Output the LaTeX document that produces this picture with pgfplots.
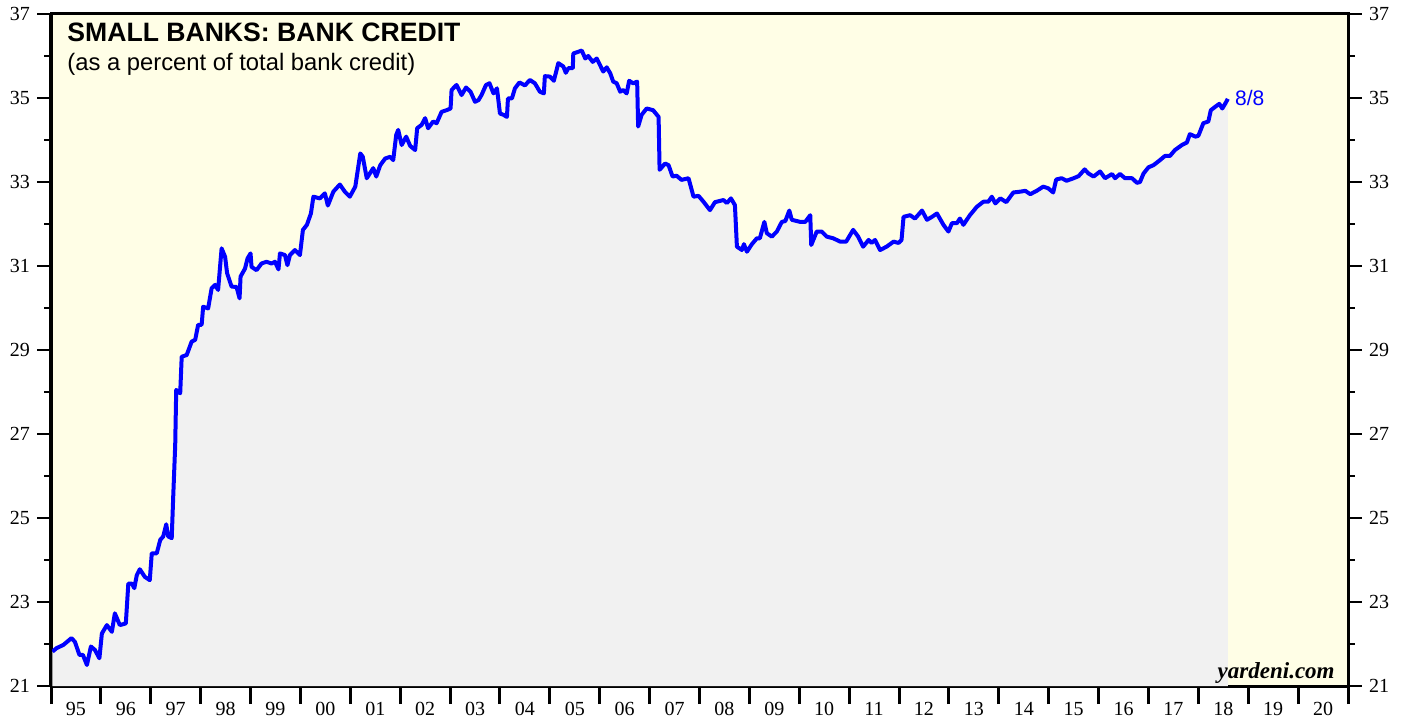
\documentclass[border=0pt]{standalone}
\usepackage{fontspec}
\setmainfont{Liberation Serif}
\newfontfamily\hv{Liberation Sans}
\usepackage{pgfplots}
\usepackage{pgfplotstable}
\pgfplotsset{compat=1.18}
\definecolor{bgyellow}{RGB}{255,254,230}
\definecolor{areagray}{RGB}{241,241,241}
\definecolor{lineblue}{RGB}{0,0,255}

\pgfplotstableread{
year val
1995.03 21.82
1995.11 21.90
1995.25 21.98
1995.41 22.14
1995.48 22.05
1995.57 21.74
1995.64 21.74
1995.72 21.50
1995.80 21.94
1995.88 21.86
1995.97 21.66
1996.02 22.25
1996.12 22.45
1996.22 22.29
1996.28 22.73
1996.38 22.45
1996.50 22.49
1996.55 23.44
1996.62 23.44
1996.67 23.33
1996.72 23.64
1996.78 23.78
1996.88 23.60
1996.98 23.52
1997.02 24.16
1997.12 24.16
1997.19 24.48
1997.25 24.56
1997.31 24.85
1997.35 24.56
1997.42 24.52
1997.45 25.51
1997.49 26.74
1997.51 28.05
1997.59 27.97
1997.62 28.84
1997.72 28.88
1997.82 29.20
1997.89 29.24
1997.95 29.60
1998.02 29.60
1998.05 30.03
1998.15 29.99
1998.22 30.47
1998.29 30.55
1998.35 30.43
1998.42 31.42
1998.49 31.22
1998.53 30.83
1998.62 30.51
1998.72 30.50
1998.78 30.23
1998.80 30.75
1998.89 30.94
1998.94 31.18
1999.00 31.30
1999.02 30.98
1999.12 30.90
1999.22 31.06
1999.32 31.10
1999.42 31.06
1999.49 31.10
1999.56 30.92
1999.59 31.30
1999.69 31.26
1999.74 31.02
1999.79 31.26
1999.89 31.38
1999.99 31.26
2000.05 31.86
2000.13 31.98
2000.21 32.25
2000.26 32.65
2000.39 32.61
2000.49 32.73
2000.55 32.44
2000.66 32.77
2000.79 32.94
2000.89 32.77
2000.99 32.65
2001.10 32.89
2001.20 33.68
2001.25 33.60
2001.33 33.09
2001.46 33.33
2001.52 33.13
2001.60 33.40
2001.70 33.56
2001.80 33.60
2001.86 33.52
2001.92 34.12
2001.96 34.24
2002.03 33.88
2002.12 34.08
2002.20 33.86
2002.30 33.76
2002.34 34.28
2002.43 34.36
2002.50 34.52
2002.56 34.28
2002.66 34.44
2002.73 34.40
2002.83 34.67
2002.93 34.71
2003.01 34.75
2003.03 35.19
2003.13 35.31
2003.23 35.07
2003.32 35.25
2003.41 35.15
2003.50 34.91
2003.57 34.95
2003.63 35.07
2003.72 35.31
2003.79 35.35
2003.87 35.11
2003.94 35.23
2004.00 34.63
2004.07 34.60
2004.14 34.55
2004.16 34.99
2004.24 34.99
2004.30 35.23
2004.39 35.37
2004.50 35.30
2004.60 35.43
2004.70 35.35
2004.80 35.15
2004.88 35.11
2004.90 35.52
2005.00 35.51
2005.08 35.41
2005.17 35.83
2005.27 35.75
2005.32 35.60
2005.37 35.71
2005.46 35.71
2005.47 36.06
2005.57 36.10
2005.64 36.13
2005.71 35.94
2005.77 36.00
2005.86 35.86
2005.94 35.94
2006.02 35.75
2006.07 35.63
2006.14 35.73
2006.21 35.59
2006.27 35.39
2006.34 35.35
2006.41 35.15
2006.47 35.19
2006.54 35.11
2006.59 35.41
2006.67 35.35
2006.75 35.39
2006.77 34.32
2006.84 34.60
2006.94 34.75
2007.07 34.71
2007.18 34.55
2007.20 33.29
2007.31 33.44
2007.38 33.40
2007.46 33.13
2007.54 33.15
2007.64 33.05
2007.78 33.09
2007.88 32.65
2007.98 32.67
2008.08 32.53
2008.21 32.33
2008.31 32.52
2008.48 32.57
2008.55 32.50
2008.63 32.61
2008.71 32.45
2008.75 31.46
2008.85 31.38
2008.89 31.52
2008.95 31.34
2009.05 31.52
2009.15 31.66
2009.21 31.66
2009.30 32.05
2009.35 31.78
2009.45 31.70
2009.55 31.82
2009.65 32.05
2009.72 32.07
2009.80 32.32
2009.85 32.10
2010.02 32.05
2010.12 32.05
2010.22 32.21
2010.24 31.50
2010.35 31.82
2010.45 31.82
2010.55 31.70
2010.68 31.66
2010.82 31.58
2010.94 31.58
2011.02 31.74
2011.08 31.86
2011.18 31.70
2011.28 31.46
2011.39 31.62
2011.45 31.55
2011.52 31.62
2011.62 31.38
2011.75 31.46
2011.89 31.58
2011.99 31.55
2012.05 31.62
2012.09 32.17
2012.22 32.21
2012.32 32.13
2012.46 32.32
2012.56 32.10
2012.66 32.17
2012.76 32.25
2012.89 31.98
2012.99 31.82
2013.06 32.02
2013.16 32.02
2013.22 32.13
2013.29 31.98
2013.42 32.21
2013.56 32.41
2013.69 32.53
2013.79 32.53
2013.86 32.65
2013.93 32.49
2014.03 32.61
2014.15 32.52
2014.29 32.75
2014.43 32.77
2014.53 32.79
2014.63 32.71
2014.76 32.79
2014.89 32.89
2014.99 32.85
2015.09 32.75
2015.15 33.06
2015.26 33.09
2015.36 33.03
2015.50 33.09
2015.60 33.14
2015.72 33.30
2015.80 33.20
2015.90 33.13
2016.03 33.25
2016.13 33.09
2016.27 33.19
2016.33 33.09
2016.43 33.19
2016.53 33.09
2016.67 33.09
2016.77 32.98
2016.83 33.00
2016.90 33.20
2017.00 33.35
2017.10 33.40
2017.23 33.52
2017.33 33.62
2017.43 33.62
2017.53 33.76
2017.67 33.88
2017.77 33.94
2017.83 34.14
2017.94 34.08
2018.00 34.10
2018.10 34.40
2018.20 34.44
2018.25 34.71
2018.36 34.81
2018.42 34.86
2018.48 34.75
2018.55 34.89
2018.59 34.98
}\credit

\begin{document}
\begin{tikzpicture}
\pgfplotsset{
  common/.style={
    width=648.5pt, height=336pt, scale only axis,
    xmin=1995, xmax=2021, ymin=21, ymax=37,
    tick align=outside,
    minor tick length=3.5pt,
    ytick={21,23,25,27,29,31,33,35,37},
    minor ytick={22,24,26,28,30,32,34,36},
    /pgf/number format/assume math mode=true,
    tick label style={font=\fontsize{10}{12}\selectfont},
  }
}
\begin{axis}[common, name=main,
  major tick length=9pt,
  axis background/.style={fill=bgyellow},
  axis line style={line width=1.5pt},
  ytick pos=left,
  y tick style={draw=none},
  minor y tick style={draw=none},
  yticklabel style={xshift=2pt},
  xtick pos=bottom,
  xtick={1995,1996,1997,1998,1999,2000,2001,2002,2003,2004,2005,2006,2007,2008,2009,2010,2011,2012,2013,2014,2015,2016,2017,2018,2019,2020,2021},
  xticklabel=\empty,
  x tick style={line width=1.5pt, black},
  extra x ticks={1995.5,1996.5,1997.5,1998.5,1999.5,2000.5,2001.5,2002.5,2003.5,2004.5,2005.5,2006.5,2007.5,2008.5,2009.5,2010.5,2011.5,2012.5,2013.5,2014.5,2015.5,2016.5,2017.5,2018.5,2019.5,2020.5},
  extra x tick labels={95,96,97,98,99,00,01,02,03,04,05,06,07,08,09,10,11,12,13,14,15,16,17,18,19,20},
  extra x tick style={tick style={draw=none}, xticklabel style={yshift=4.5pt}},
]
\addplot[fill=areagray, draw=none] table[x=year, y=val] {\credit} \closedcycle;
\addplot[color=lineblue, line width=2pt, line join=round] table[x=year, y=val] {\credit};
\node[anchor=base west, inner sep=0pt, font=\hv\bfseries\fontsize{13.3}{15}\selectfont]
  at (rel axis cs:0,1) [xshift=8pt, yshift=-14pt] {SMALL BANKS: BANK CREDIT};
\node[anchor=base west, inner sep=0pt, font=\hv\fontsize{11.9}{14}\selectfont]
  at (rel axis cs:0,1) [xshift=8pt, yshift=-28.2pt] {(as a percent of total bank credit)};
\node[anchor=west, inner sep=0pt, text=lineblue, font=\hv\fontsize{10.5}{12}\selectfont]
  at (axis cs:2018.59,35.0) [xshift=3.5pt] {8/8};
\node[anchor=base east, inner sep=0pt, font=\bfseries\itshape\fontsize{11.5}{13}\selectfont]
  at (rel axis cs:1,0) [xshift=-6.5pt, yshift=4pt] {yardeni.com};
\end{axis}
\begin{axis}[common,
  major tick length=7pt,
  hide x axis,
  axis line style={line width=1.5pt},
  ytick pos=both, yticklabel pos=right,
  y tick style={line width=0.9pt, black},
  minor y tick style={line width=0.9pt, black},
]
\end{axis}
\pgfresetboundingbox
\useasboundingbox ([xshift=-25.5pt,yshift=-15.5pt]main.south west) rectangle ([xshift=29.5pt,yshift=7pt]main.north east);
\end{tikzpicture}
\end{document}
